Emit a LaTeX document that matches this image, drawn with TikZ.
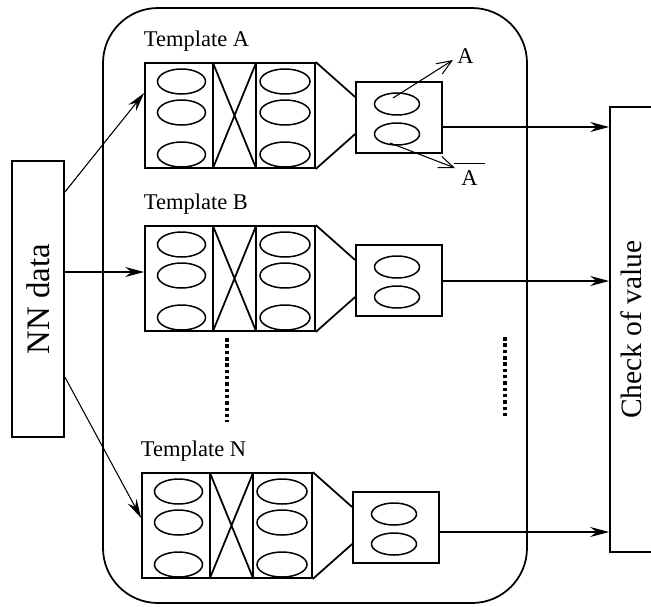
\documentclass[tikz,border=0pt]{standalone}
\usepackage{fontspec}
\setmainfont{Liberation Serif}
\usepackage{graphicx}
\usetikzlibrary{arrows.meta}
\usetikzlibrary{shapes.geometric}

\begin{document}
\begin{tikzpicture}[x=0.02cm, y=-0.02cm, line width=1pt,
    >={Stealth[length=0.38cm,width=0.2cm,inset=0.13cm]},
    box/.style={draw, rectangle, inner sep=0pt},
    oval/.style={draw, ellipse, inner sep=0pt, line width=0.85pt},
    link/.style={->, line width=0.6pt},
    barb/.style={-{Straight Barb[length=0.3cm,width=0.24cm]}, line width=0.6pt},
    dotline/.style={line width=2pt, dash pattern=on 2pt off 1.6pt},
    lab/.style={inner sep=0pt, font=\fontsize{12.8}{15}\selectfont}]
    \useasboundingbox (0,0) rectangle (651,606);

    % frame round the templates
    \draw[rounded corners=1.1cm] (103,8) rectangle (527,603);

    % input and check boxes
    \node[box, minimum width=1.04cm, minimum height=5.52cm,
          font=\fontsize{18.7}{20}\selectfont] (nn) at (38,299) {\rotatebox{90}{NN data}};
    \node[box, minimum width=0.84cm, minimum height=8.9cm,
          font=\fontsize{16.8}{18}\selectfont] (chk) at (631,329.5) {\rotatebox{90}{Check of value}};

    % templates: name/top/xshift/in y/block y/out y
    \foreach \n/\y/\dx/\iy/\ey/\oy in {A/63/0/129/30/64, B/226/0/46/46/55, N/473/-3/-96/45/59} {
        \begin{scope}[shift={(\dx,\y)}]
            \node[lab, anchor=base west] (t\n) at (143,-17) {Template \n};
            \node[box, minimum width=3.4cm, minimum height=2.1cm] (blk\n) at (230,52.5) {};
            \draw (213,0) -- (213,105) (256,0) -- (256,105);
            \draw (213,0) -- (256,105) (213,105) -- (256,0);
            \foreach \r [count=\k] in {18.5,49.5,91.5} {
                \node[oval, minimum width=0.96cm, minimum height=0.5cm] (l\n\k) at (181.5,\r) {};
                \node[oval, minimum width=1cm, minimum height=0.5cm] (r\n\k) at (285,\r) {};
            }
            \node[box, minimum width=1.72cm, minimum height=1.42cm] (out\n) at (399,54.5) {};
            \node[oval, minimum width=0.9cm, minimum height=0.44cm] (o\n1) at (397,41) {};
            \node[oval, minimum width=0.9cm, minimum height=0.44cm] (o\n2) at (397,71) {};
            \draw (blk\n.north east) -- (out\n.west |- 0,34);
            \draw (blk\n.south east) -- (out\n.west |- 0,71);
            \draw[link] (nn.east |- 0,\iy) -- (blk\n.west |- 0,\ey);
            \draw[link] (out\n.east |- 0,\oy) -- (chk.west |- 0,\oy);
        \end{scope}
    }

    % outputs of template A
    \node[lab] (ya) at (465.5,56.5) {A};
    \node[lab] (na) at (469.5,178.5) {A};
    \coordinate (tipY) at (453,60);
    \coordinate (tipN) at (455,168);
    \draw[barb] ([shift={(-0.08cm,0.12cm)}]oA1.center) -- (tipY);
    \draw[barb] ([shift={(-0.14cm,-0.18cm)}]oA2.center) -- (tipN);
    \draw[line width=0.6pt] ([xshift=-0.14cm,yshift=0.13cm]na.north west) -- ([xshift=0.12cm,yshift=0.13cm]na.north east);

    % more templates
    \draw[dotline] (227,338) -- (227,422);
    \draw[dotline] (505,337) -- (505,418);
\end{tikzpicture}
\end{document}
